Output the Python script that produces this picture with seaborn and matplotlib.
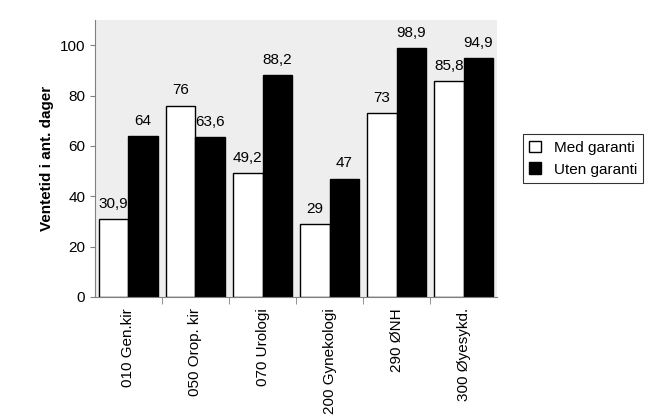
import matplotlib
matplotlib.use('Agg')
import matplotlib.pyplot as plt
import seaborn as sns
import pandas as pd

kategorier = ['010 Gen.kir', '050 Orop. kir', '070 Urologi', '200 Gynekologi', '290 ØNH', '300 Øyesykd.']
med_garanti = [30.9, 76, 49.2, 29, 73, 85.8]
uten_garanti = [64, 63.6, 88.2, 47, 98.9, 94.9]
serier = ['Med garanti', 'Uten garanti']

df = pd.DataFrame({
    'kategori': kategorier * 2,
    'verdi': med_garanti + uten_garanti,
    'serie': [serier[0]] * len(kategorier) + [serier[1]] * len(kategorier),
})

plt.rcParams['font.family'] = 'Liberation Sans'
fig = plt.figure(figsize=(6.5, 4.2), dpi=100)
ax = fig.add_axes([0.146, 0.293, 0.619, 0.659])
ax.set_facecolor('#eeeeee')

sns.barplot(data=df, x='kategori', y='verdi', hue='serie', ax=ax,
            palette={'Med garanti': 'white', 'Uten garanti': 'black'},
            edgecolor='black', linewidth=1, width=0.88, saturation=1)

# verdietiketter
for container in ax.containers:
    ax.bar_label(container, labels=[f'{v:g}'.replace('.', ',') for v in container.datavalues],
                 padding=6, fontsize=11)

ax.set_ylim(0, 110)
ax.set_yticks(range(0, 101, 20))
ax.set_xlim(-0.5, len(kategorier) - 0.5)
ax.set_ylabel('Ventetid i ant. dager', fontsize=11, fontweight='bold')
ax.set_xlabel('')
ax.tick_params(axis='x', rotation=90, labelsize=11, length=0, pad=8)
ax.tick_params(axis='y', labelsize=11, color='gray')
for s in ['top', 'right']:
    ax.spines[s].set_visible(False)
for s in ['left', 'bottom']:
    ax.spines[s].set_color('gray')
# skillestreker mellom kategorier
ax.set_xticks([i + 0.5 for i in range(len(kategorier) - 1)], minor=True)
ax.tick_params(axis='x', which='minor', length=5, color='gray')

leg = ax.legend(loc='center left', bbox_to_anchor=(1.045, 0.5), frameon=True,
                fancybox=False, edgecolor='black', fontsize=11,
                handlelength=0.8, handleheight=0.8)
leg.get_frame().set_linewidth(0.8)

fig.savefig('out.png', dpi=100)
